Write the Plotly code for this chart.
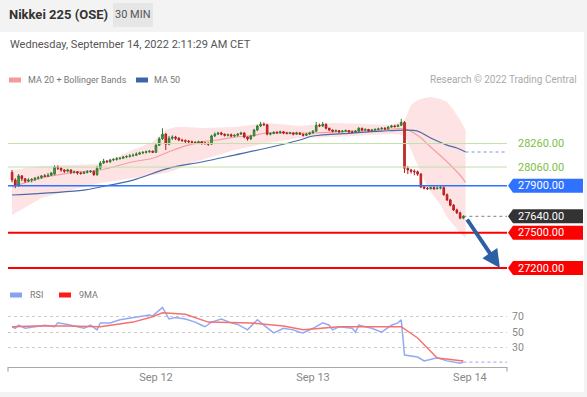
import plotly.graph_objects as go
import pandas as pd

# ---------------- data ----------------
bar_start = "2022-09-11 02:00"
opens = [28015,27950,27905,27985,27960,27940,27950,27955,27965,27970,
         27985,27980,27990,28000,28060,28050,28035,28025,28035,28015,
         28020,28010,28005,28015,28020,28025,27995,28050,28095,28110,
         28105,28120,28125,28130,28135,28145,28150,28155,28160,28170,
         28180,28185,28190,28195,28185,28245,28300,28340,28255,28305,
         28315,28305,28290,28285,28280,28275,28270,28265,28275,28265,
         28260,28255,28325,28340,28350,28340,28330,28335,28325,28330,
         28340,28350,28315,28300,28325,28375,28410,28425,28420,28340,
         28345,28355,28350,28360,28350,28345,28350,28340,28350,28340,
         28330,28340,28350,28365,28415,28410,28425,28390,28375,28365,
         28370,28360,28365,28370,28360,28355,28365,28390,28375,28380,
         28370,28375,28380,28385,28390,28385,28400,28410,28405,28415,
         28440,28050,28035,28025,28020,28000,27890,27880,27875,27885,
         27875,27880,27885,27825,27780,27735,27695,27670,27625]
highs = [28035,27965,28000,27990,27965,27965,27965,27975,27985,27990,
         28000,28010,28015,28075,28075,28060,28040,28045,28040,28030,
         28025,28020,28025,28035,28035,28030,28070,28110,28130,28120,
         28130,28135,28145,28145,28155,28160,28170,28175,28185,28190,
         28195,28200,28205,28200,28265,28315,28390,28350,28325,28330,
         28325,28315,28300,28295,28290,28285,28280,28285,28280,28275,
         28270,28335,28355,28360,28360,28345,28345,28345,28340,28350,
         28360,28355,28320,28335,28385,28420,28445,28440,28425,28355,
         28365,28365,28370,28365,28360,28360,28355,28360,28355,28345,
         28350,28360,28375,28445,28430,28445,28430,28395,28380,28380,
         28375,28375,28380,28375,28370,28375,28400,28395,28390,28385,
         28385,28390,28395,28400,28400,28410,28420,28420,28425,28470,
         28450,28070,28045,28040,28030,28010,27900,27890,27895,27895,
         27895,27900,27895,27835,27790,27745,27705,27680,27650]
lows = [27930,27880,27890,27940,27925,27930,27930,27940,27955,27960,
        27975,27975,27985,27990,28035,28020,28010,28015,28000,28005,
        27995,27995,28000,28005,28010,27985,27985,28040,28085,28095,
        28095,28110,28115,28125,28130,28135,28140,28150,28155,28165,
        28170,28175,28180,28180,28180,28240,28290,28205,28245,28290,
        28290,28280,28275,28265,28260,28260,28255,28255,28250,28250,
        28240,28250,28315,28335,28330,28320,28320,28315,28315,28320,
        28335,28305,28285,28290,28320,28365,28400,28410,28330,28330,
        28340,28345,28345,28340,28340,28340,28330,28335,28335,28320,
        28325,28335,28345,28360,28400,28400,28380,28365,28355,28360,
        28350,28355,28360,28350,28350,28350,28360,28365,28370,28360,
        28365,28370,28375,28380,28375,28380,28395,28395,28400,28410,
        28010,28000,28005,27990,27985,27880,27870,27865,27870,27865,
        27870,27870,27815,27770,27725,27685,27660,27615,27615]
closes = [27950,27905,27985,27960,27940,27950,27955,27965,27970,27985,
          27980,27990,28010,28060,28050,28035,28025,28035,28015,28020,
          28010,28005,28015,28020,28025,27995,28050,28095,28110,28105,
          28120,28125,28130,28135,28145,28150,28155,28160,28170,28180,
          28185,28190,28195,28185,28245,28300,28340,28255,28305,28315,
          28305,28290,28285,28280,28275,28270,28265,28275,28265,28260,
          28255,28325,28340,28350,28340,28330,28335,28325,28330,28340,
          28350,28315,28300,28325,28375,28410,28425,28420,28340,28345,
          28355,28350,28360,28350,28345,28350,28340,28350,28340,28330,
          28340,28350,28365,28415,28410,28425,28390,28375,28365,28370,
          28360,28365,28370,28360,28355,28365,28390,28375,28380,28370,
          28375,28380,28385,28390,28385,28400,28410,28405,28415,28440,
          28050,28035,28025,28020,28000,27890,27880,27875,27885,27875,
          27880,27885,27825,27780,27735,27695,27670,27625,27640]
bar_times = pd.date_range(bar_start, periods=len(closes), freq="30min")

ma20_times = ["2022-09-11 02:00","2022-09-11 06:30","2022-09-11 11:00","2022-09-11 15:30",
              "2022-09-11 20:30","2022-09-11 23:30","2022-09-12 02:00","2022-09-12 04:30",
              "2022-09-12 07:00","2022-09-12 09:30","2022-09-12 12:00","2022-09-12 14:30",
              "2022-09-12 17:00","2022-09-12 22:00","2022-09-13 00:00","2022-09-13 06:00",
              "2022-09-13 10:30","2022-09-13 14:00","2022-09-13 16:00","2022-09-13 18:00",
              "2022-09-13 20:30","2022-09-13 22:30","2022-09-13 23:20"]
ma20_vals = [27890,27965,28010,28035,28105,28135,28190,28240,28275,28290,28315,28325,
             28350,28350,28350,28365,28375,28385,28330,28230,28105,27990,27930]

bb_times = ["2022-09-11 02:00","2022-09-11 06:30","2022-09-11 11:00","2022-09-11 15:30",
            "2022-09-11 20:30","2022-09-11 23:30","2022-09-12 01:30","2022-09-12 03:00",
            "2022-09-12 04:30","2022-09-12 07:00","2022-09-12 12:00","2022-09-12 17:00",
            "2022-09-12 22:00","2022-09-13 03:00","2022-09-13 08:00","2022-09-13 12:00",
            "2022-09-13 14:00","2022-09-13 15:00","2022-09-13 16:00","2022-09-13 17:00",
            "2022-09-13 18:00","2022-09-13 19:00","2022-09-13 19:30","2022-09-13 20:30",
            "2022-09-13 21:30","2022-09-13 22:30","2022-09-13 23:20"]
bb_upper = [28034,28068,28077,28086,28205,28273,28375,28400,28400,28392,28400,28435,
            28409,28435,28426,28418,28460,28588,28630,28647,28656,28647,28639,28613,
            28545,28460,28375]
bb_lower = [27651,27796,27864,27924,27966,27992,28009,28034,28077,28120,28205,28264,
            28307,28315,28332,28341,28332,28205,28077,27949,27847,27779,27736,27634,
            27566,27498,27455]

ma50_times = ["2022-09-11 02:00","2022-09-11 13:00","2022-09-11 15:30","2022-09-11 20:30",
              "2022-09-12 02:00","2022-09-12 07:00","2022-09-12 12:00","2022-09-12 17:00",
              "2022-09-12 22:00","2022-09-13 00:00","2022-09-13 06:00","2022-09-13 10:30",
              "2022-09-13 14:00","2022-09-13 16:00","2022-09-13 18:00","2022-09-13 20:30",
              "2022-09-13 22:00","2022-09-13 23:20"]
ma50_vals = [27822,27864,27890,27949,28051,28103,28162,28222,28290,28324,28349,28366,
             28375,28366,28307,28247,28222,28188]

rsi_times = ["2022-09-11 02:00","2022-09-11 02:30","2022-09-11 03:00","2022-09-11 04:00",
             "2022-09-11 05:30","2022-09-11 07:00","2022-09-11 08:30","2022-09-11 09:00",
             "2022-09-11 10:30","2022-09-11 12:00","2022-09-11 13:00","2022-09-11 14:00",
             "2022-09-11 15:00","2022-09-11 15:30","2022-09-11 17:00","2022-09-11 18:30",
             "2022-09-11 20:30","2022-09-11 23:00","2022-09-11 23:30","2022-09-12 00:30",
             "2022-09-12 01:00","2022-09-12 02:00","2022-09-12 03:00","2022-09-12 04:30",
             "2022-09-12 06:00","2022-09-12 07:00","2022-09-12 07:30","2022-09-12 08:30",
             "2022-09-12 10:00","2022-09-12 11:30","2022-09-12 12:30","2022-09-12 14:00",
             "2022-09-12 15:30","2022-09-12 16:30","2022-09-12 18:00","2022-09-12 19:30",
             "2022-09-12 21:00","2022-09-12 22:00","2022-09-12 22:30","2022-09-13 00:00",
             "2022-09-13 01:30","2022-09-13 02:30","2022-09-13 03:00","2022-09-13 04:00",
             "2022-09-13 06:00","2022-09-13 06:30","2022-09-13 07:00","2022-09-13 09:00",
             "2022-09-13 10:30","2022-09-13 12:00","2022-09-13 13:00","2022-09-13 13:30",
             "2022-09-13 14:00","2022-09-13 16:00","2022-09-13 17:00","2022-09-13 19:00",
             "2022-09-13 20:30","2022-09-13 22:30","2022-09-13 23:00"]
rsi_vals = [57,55,59,55,57,59,57,62,60,57,55,59,53,62,62,66,69,72,71,79,82,67,69,67,
            63,59,57,63,67,62,60,53,66,59,49,55,53,50,49,55,62,59,53,57,55,50,59,55,
            50,59,62,66,20.6,18,13,17,13,10,11.5]

ma9_times = ["2022-09-11 02:00","2022-09-11 05:30","2022-09-11 10:30","2022-09-11 15:30",
             "2022-09-11 20:30","2022-09-11 23:30","2022-09-12 01:00","2022-09-12 04:30",
             "2022-09-12 08:00","2022-09-12 14:30","2022-09-12 19:30","2022-09-12 22:30",
             "2022-09-13 04:00","2022-09-13 13:30","2022-09-13 16:00","2022-09-13 19:00",
             "2022-09-13 23:00"]
ma9_vals = [57,58,58,57,63,70,75,73,63,62,58,53,57,57,42.5,16.7,12.8]

resistance = [28260, 28060]
pivot = 27900
last_price = 27640
supports = [27500, 27200]
target_from = ("2022-09-13 23:25", 27626)
target_to = ("2022-09-14 04:35", 27200)

x_range = ["2022-09-11 01:23", "2022-09-14 05:40"]
price_range = [27098, 28699]
rsi_range = [5.1, 91.5]
x_ticks = ["2022-09-12", "2022-09-13", "2022-09-14"]
x_ticklabels = ["Sep 12", "Sep 13", "Sep 14"]
rsi_ticks = [30, 50, 70]

# ---------------- layout helpers ----------------
W, H = 587, 397
ML, MR, MT, MB = 8, 80, 90, 30
PW, PH = W - ML - MR, H - MT - MB
def px(x): return (x - ML) / PW
def py(y): return (H - MB - y) / PH

FONT = "Roboto, Arial, sans-serif"
fig = go.Figure()

# Bollinger band + moving averages (base price axis)
fig.add_trace(go.Scatter(x=bb_times, y=bb_lower, mode="lines", line=dict(width=0),
                         hoverinfo="skip", yaxis="y"))
fig.add_trace(go.Scatter(x=bb_times, y=bb_upper, mode="lines", line=dict(width=0),
                         fill="tonexty", fillcolor="#fde3e3", hoverinfo="skip", yaxis="y"))
fig.add_trace(go.Scatter(x=ma20_times, y=ma20_vals, mode="lines",
                         line=dict(color="#f4a0a0", width=1.2, shape="spline"), yaxis="y"))
fig.add_trace(go.Scatter(x=ma50_times, y=ma50_vals, mode="lines",
                         line=dict(color="#4a6aa8", width=1.2, shape="spline"), yaxis="y"))
fig.add_trace(go.Scatter(x=[ma50_times[-1], x_range[1]], y=[ma50_vals[-1], ma50_vals[-1]],
                         mode="lines", line=dict(color="#a9b6e0", width=1.3, dash="dot"), yaxis="y"))
fig.add_trace(go.Scatter(x=[bar_times[-1], x_range[1]], y=[last_price, last_price],
                         mode="lines", line=dict(color="#999999", width=1.2, dash="dot"), yaxis="y"))

# candles on an overlaying axis so they sit above the band fill
fig.add_trace(go.Candlestick(
    x=bar_times, open=opens, high=highs, low=lows, close=closes, yaxis="y3",
    increasing=dict(line=dict(color="#2f7d32", width=1), fillcolor="#43a047"),
    decreasing=dict(line=dict(color="#b71c1c", width=1), fillcolor="#d32f2f"),
    whiskerwidth=0))

# RSI panel
fig.add_trace(go.Scatter(x=rsi_times, y=rsi_vals, mode="lines",
                         line=dict(color="#93aaf0", width=1.5), yaxis="y2"))
fig.add_trace(go.Scatter(x=ma9_times, y=ma9_vals, mode="lines",
                         line=dict(color="#f77070", width=1.5), yaxis="y2"))
fig.add_trace(go.Scatter(x=[rsi_times[-1], x_range[1]], y=[rsi_vals[-1], rsi_vals[-1]],
                         mode="lines", line=dict(color="#a9b6f0", width=1.3, dash="dot"), yaxis="y2"))

shapes = []
annotations = []

# page panel + header
shapes.append(dict(type="rect", xref="paper", yref="paper", x0=px(0), x1=px(584),
                   y0=py(392), y1=py(32), fillcolor="white", line=dict(width=0), layer="below"))
shapes.append(dict(type="rect", xref="paper", yref="paper", x0=px(113), x1=px(153),
                   y0=py(27), y1=py(3), fillcolor="#e6e6e6", line=dict(width=0), layer="below"))
annotations += [
    dict(text="<b>Nikkei 225 (OSE)</b>", x=px(7), y=py(15), xref="paper", yref="paper",
         xanchor="left", yanchor="middle", showarrow=False, font=dict(size=13, color="#333", family=FONT)),
    dict(text="30 MIN", x=px(133), y=py(15), xref="paper", yref="paper",
         xanchor="center", yanchor="middle", showarrow=False, font=dict(size=11, color="#555", family=FONT)),
    dict(text="Wednesday, September 14, 2022 2:11:29 AM CET", x=px(8), y=py(45), xref="paper", yref="paper",
         xanchor="left", yanchor="middle", showarrow=False, font=dict(size=11, color="#555", family=FONT)),
]

# legends
def legend_item(x_rect, y, color, label, x_text, size=9):
    shapes.append(dict(type="rect", xref="paper", yref="paper", x0=px(x_rect), x1=px(x_rect + 12),
                       y0=py(y + 2.5), y1=py(y - 2.5), fillcolor=color, line=dict(width=0)))
    annotations.append(dict(text=label, x=px(x_text), y=py(y), xref="paper", yref="paper",
                            xanchor="left", yanchor="middle", showarrow=False,
                            font=dict(size=size, color="#777", family=FONT)))

legend_item(9, 80, "#f49a9a", "MA 20 + Bollinger Bands", 26)
legend_item(136, 80, "#3e63a8", "MA 50", 152)
legend_item(10, 295, "#86a2f0", "RSI", 28)
legend_item(59, 295, "#ff1a1a", "9MA", 77)
annotations.append(dict(text="Research © 2022 Trading Central", x=px(579), y=py(80), xref="paper",
                        yref="paper", xanchor="right", yanchor="middle", showarrow=False,
                        font=dict(size=10, color="#aaa", family=FONT)))

# level lines + labels
def hline(level, color, width):
    shapes.append(dict(type="line", xref="paper", yref="y", x0=0, x1=1, y0=level, y1=level,
                       line=dict(color=color, width=width)))

def tag(level, color, text_color="white"):
    shapes.append(dict(type="path", xref="paper", yref="y", xsizemode="pixel", ysizemode="pixel",
                       xanchor=1, yanchor=level, path="M1,0 L6,7 L76,7 L76,-7 L6,-7 Z",
                       fillcolor=color, line=dict(width=0)))
    annotations.append(dict(text=f"{level:.2f}", x=1, y=level, xref="paper", yref="y", xshift=9,
                            xanchor="left", yanchor="middle", showarrow=False,
                            font=dict(size=11, color=text_color, family=FONT)))

for lv in resistance:
    hline(lv, "#c2e0a8", 1)
    annotations.append(dict(text=f"{lv:.2f}", x=1, y=lv, xref="paper", yref="y", xshift=9,
                            xanchor="left", yanchor="middle", showarrow=False,
                            font=dict(size=11, color="#7cbf45", family=FONT)))
hline(pivot, "#2f72ff", 1.5)
tag(pivot, "#2f72ff")
tag(last_price, "#333333")
for lv in supports:
    hline(lv, "#ff0000", 2)
    tag(lv, "#ff0000")

# x axis end ticks
for xe in (8, 507):
    shapes.append(dict(type="line", xref="paper", yref="paper", x0=px(xe), x1=px(xe),
                       y0=py(367), y1=py(371.5), line=dict(color="#999", width=1)))

# target arrow
annotations.append(dict(x=target_to[0], y=target_to[1], ax=target_from[0], ay=target_from[1],
                        xref="x", yref="y", axref="x", ayref="y", text="", showarrow=True,
                        arrowhead=2, arrowsize=0.9, arrowwidth=4, arrowcolor="#2d5fa5"))

fig.update_layout(
    width=W, height=H, margin=dict(l=ML, r=MR, t=MT, b=MB),
    paper_bgcolor="#f3f3f3", plot_bgcolor="white", showlegend=False,
    font=dict(family=FONT),
    xaxis=dict(type="date", range=x_range, anchor="y2", tickvals=x_ticks, ticktext=x_ticklabels,
               tickfont=dict(size=11, color="#888"), showgrid=False, showline=True,
               linecolor="#aaa", linewidth=1, ticks="", rangeslider=dict(visible=False),
               zeroline=False),
    yaxis=dict(domain=[py(280), py(92)], range=price_range, visible=False, showgrid=False),
    yaxis3=dict(overlaying="y", range=price_range, visible=False, showgrid=False),
    yaxis2=dict(domain=[0, py(300)], range=rsi_range, side="right", tickvals=rsi_ticks,
                showgrid=True, gridcolor="#cccccc", griddash="dot", gridwidth=1, zeroline=False,
                tickfont=dict(size=10.5, color="#888"), ticks="", ticklabelstandoff=4),
    shapes=shapes, annotations=annotations,
)

fig.write_html("out.html", config={"displayModeBar": False},
               post_script="document.body.style.margin='0px';")
